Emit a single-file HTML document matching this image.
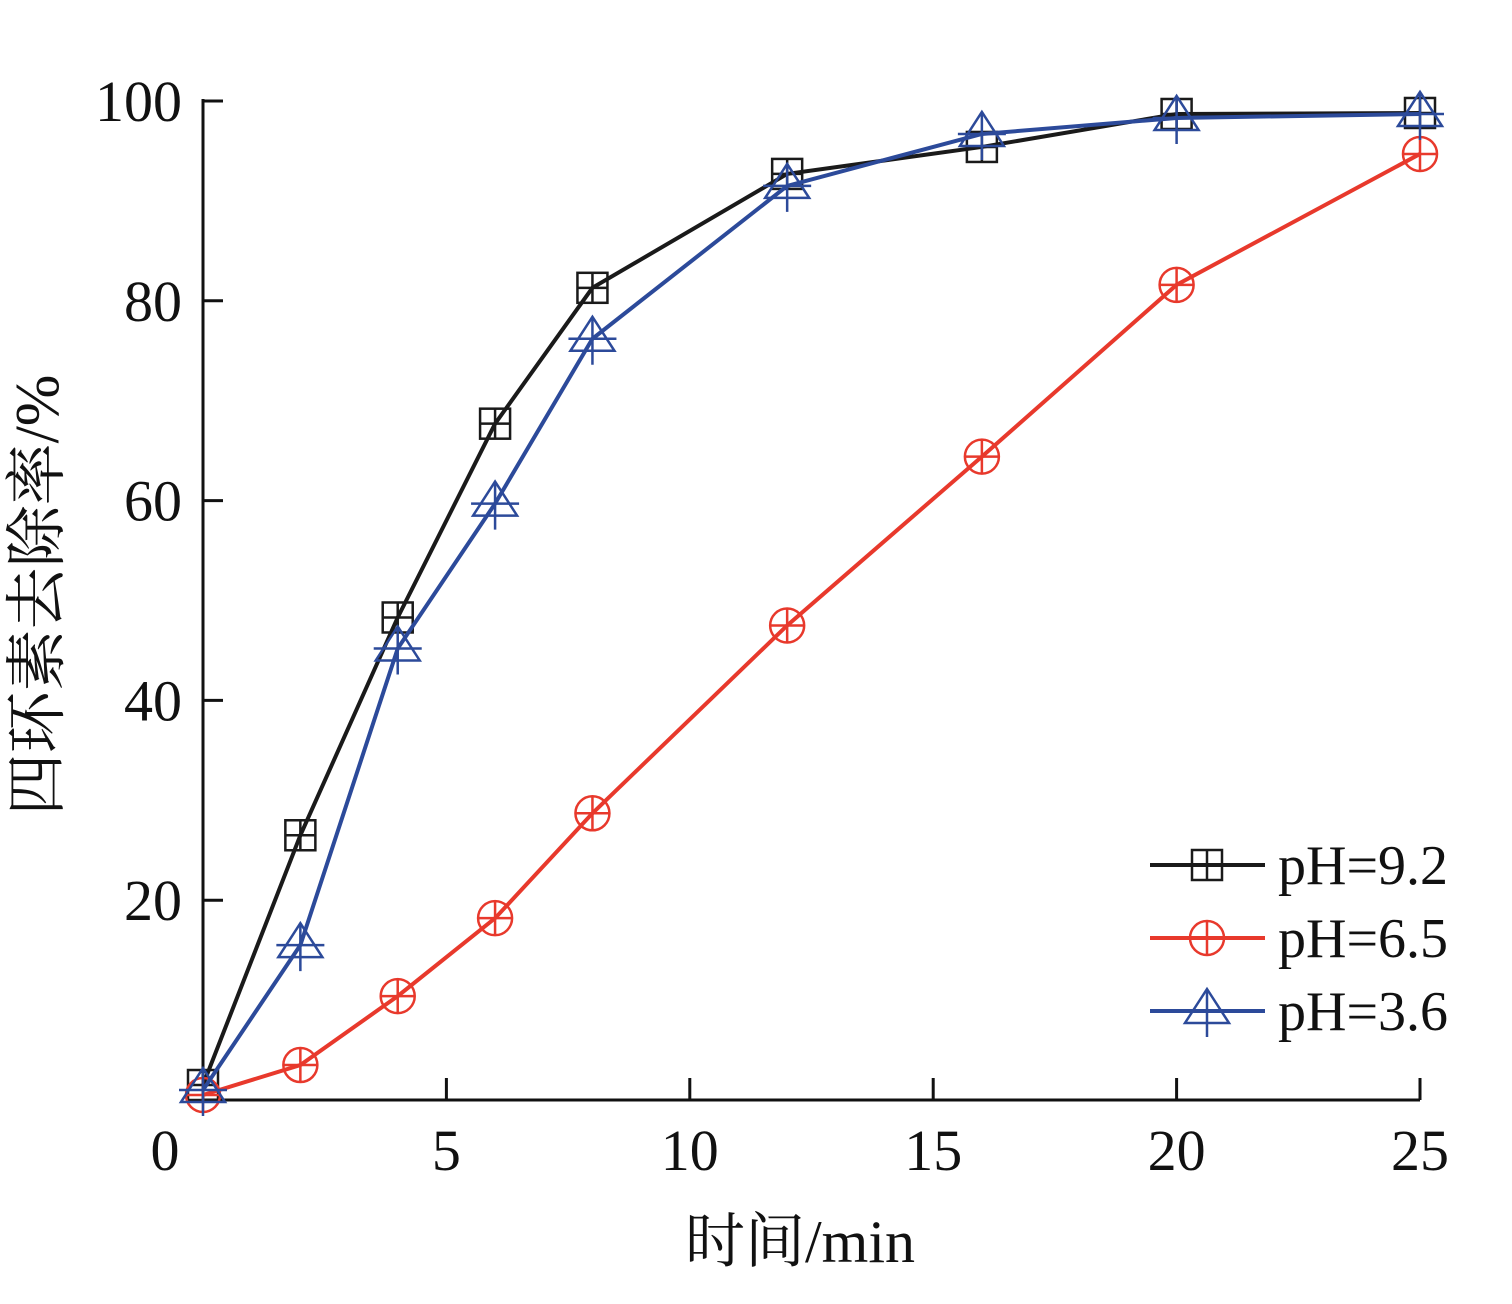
<!DOCTYPE html>
<html><head><meta charset="utf-8"><style>
body{margin:0;background:#fff}
svg text{font-family:"Liberation Serif","Noto Serif CJK SC",serif;fill:#111}
</style></head><body>
<svg id="chart" width="1512" height="1299" viewBox="0 0 1512 1299" xmlns="http://www.w3.org/2000/svg">
<g id="axes"></g><g id="series"></g><g id="legend"></g>
</svg>
<script>
const xValues=[0,2,4,6,8,12,16,20,25];
const seriesNames=["pH=9.2","pH=6.5","pH=3.6"];
const ph92=[1.5,26.5,48.3,67.7,81.3,92.7,95.4,98.7,98.8];
const ph65=[0.5,3.5,10.4,18.2,28.7,47.5,64.4,81.6,94.7];
const ph36=[1,15.5,45.2,59.7,76.2,91.5,96.7,98.3,98.7];
const xTicks=[0,5,10,15,20,25];
const yTicks=[20,40,60,80,100];

const NS="http://www.w3.org/2000/svg";
const X0=203,X1=1420,Y0=1100,Y1=101;
const xs=v=>X0+(X1-X0)*v/25;
const ys=v=>Y0-(Y0-Y1)*v/100;
function mk(tag,attrs,parent,text){const e=document.createElementNS(NS,tag);for(const k in attrs)e.setAttribute(k,attrs[k]);if(text!==undefined)e.textContent=text;parent.appendChild(e);return e;}
const axes=document.getElementById('axes');
let e;
e=mk('line',{x1:X0,y1:Y1-2,x2:X0,y2:Y0,stroke:'#111','stroke-width':3},axes);


e=mk('line',{x1:X0,y1:Y0,x2:X1,y2:Y0,stroke:'#111','stroke-width':3},axes);


xTicks.forEach(t=>{
  if(t>0){e=mk('line',{x1:xs(t),y1:Y0,x2:xs(t),y2:Y0-22,stroke:'#111','stroke-width':3},axes);
  
  }
  e=mk('text',{x:t===0?165:xs(t),y:1170,'text-anchor':'middle','font-size':58},axes,String(t));
  
  
});
yTicks.forEach(t=>{
  e=mk('line',{x1:X0,y1:ys(t),x2:X0+20,y2:ys(t),stroke:'#111','stroke-width':3},axes);
  
  
  e=mk('text',{x:182,y:ys(t)+20,'text-anchor':'end','font-size':58},axes,String(t));
  
  
});
e=mk('text',{x:800,y:1262,'text-anchor':'middle','font-size':60},axes,'时间/min');


e=mk('text',{x:0,y:0,'text-anchor':'middle','font-size':62,transform:'translate(58,595) rotate(-90)'},axes,'四环素去除率/%');



function marker(g,type,cx,cy,color){
  if(type==='sq'){mk('rect',{x:cx-15,y:cy-15,width:30,height:30,fill:'none',stroke:color,'stroke-width':2.5},g);
    mk('path',{d:`M${cx-15} ${cy}H${cx+15}M${cx} ${cy-15}V${cy+15}`,stroke:color,'stroke-width':2.5},g);}
  else if(type==='ci'){mk('circle',{cx,cy,r:17,fill:'none',stroke:color,'stroke-width':2.5},g);
    mk('path',{d:`M${cx-17} ${cy}H${cx+17}M${cx} ${cy-17}V${cy+17}`,stroke:color,'stroke-width':2.5},g);}
  else{mk('path',{d:`M${cx} ${cy-22}L${cx+22} ${cy+12}L${cx-22} ${cy+12}Z`,fill:'none',stroke:color,'stroke-width':2.5},g);
    mk('path',{d:`M${cx-24} ${cy}H${cx+24}M${cx} ${cy-22}V${cy+26}`,stroke:color,'stroke-width':2.5},g);}
}
const seriesList=[[ph92,'#1a1a1a','sq','series-ph-9-2'],[ph65,'#e8392c','ci','series-ph-6-5'],[ph36,'#2c4a9a','tr','series-ph-3-6']];
const sg=document.getElementById('series');
seriesList.forEach(([vals,color,type,name])=>{
  const g=mk('g',{},sg);
  
  
  const pts=vals.map((v,i)=>xs(xValues[i])+','+ys(v)).join(' ');
  e=mk('polyline',{points:pts,fill:'none',stroke:color,'stroke-width':4},g);
  
  
  vals.forEach((v,i)=>marker(g,type,xs(xValues[i]),ys(v),color));
});
const lg=document.getElementById('legend');


seriesList.forEach(([vals,color,type,name],i)=>{
  const y=865+i*73;
  const g=mk('g',{},lg);
  
  
  mk('line',{x1:1150,y1:y,x2:1265,y2:y,stroke:color,'stroke-width':4},g);
  marker(g,type,1207,y,color);
  mk('text',{x:1278,y:y+19,'font-size':56},g,seriesNames[i]);
});
</script>
</body></html>
